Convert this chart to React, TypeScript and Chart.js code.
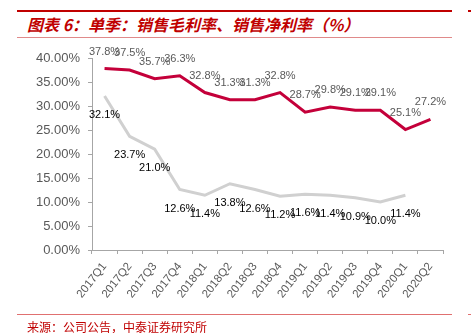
import React, { useEffect, useRef } from "react";
import { Chart, registerables } from "chart.js";

Chart.register(...registerables);

const categories = [
  "2017Q1", "2017Q2", "2017Q3", "2017Q4",
  "2018Q1", "2018Q2", "2018Q3", "2018Q4",
  "2019Q1", "2019Q2", "2019Q3", "2019Q4",
  "2020Q1", "2020Q2",
];
const grossMargin = [37.8, 37.5, 35.7, 36.3, 32.8, 31.3, 31.3, 32.8, 28.7, 29.8, 29.1, 29.1, 25.1, 27.2];
const netMargin = [32.1, 23.7, 21.0, 12.6, 11.4, 13.8, 12.6, 11.2, 11.6, 11.4, 10.9, 10.0, 11.4, null];
const yTicks = [0, 5, 10, 15, 20, 25, 30, 35, 40];

const titleText = "图表 6：单季：销售毛利率、销售净利率（%）";
const sourceText = "来源：公司公告，中泰证券研究所";

const FONT = "'Liberation Sans', Arial, sans-serif";

export default function App() {
  const ref = useRef<HTMLCanvasElement>(null);

  useEffect(() => {
    const labelPlugin = {
      id: "valueLabels",
      afterDatasetsDraw(chart: any) {
        const ctx = chart.ctx;
        ctx.save();
        ctx.font = `11px ${FONT}`;
        ctx.textAlign = "center";
        ctx.textBaseline = "middle";
        chart.data.datasets.forEach((ds: any, di: number) => {
          const meta = chart.getDatasetMeta(di);
          meta.data.forEach((pt: any, i: number) => {
            const v = ds.data[i];
            if (v == null) return;
            ctx.fillStyle = di === 0 ? "#595959" : "#000000";
            const dy = di === 0 ? -17 : 19;
            ctx.fillText(v.toFixed(1) + "%", pt.x, pt.y + dy);
          });
        });
        ctx.restore();
      },
    };

    const chart = new Chart(ref.current as HTMLCanvasElement, {
      type: "line",
      data: {
        labels: categories,
        datasets: [
          {
            label: "销售毛利率",
            data: grossMargin,
            borderColor: "#c4003a",
            borderWidth: 3,
            pointRadius: 0,
            tension: 0,
          },
          {
            label: "销售净利率",
            data: netMargin as any,
            borderColor: "#d0d0d0",
            borderWidth: 3,
            pointRadius: 0,
            tension: 0,
            spanGaps: false,
          },
        ],
      },
      options: {
        responsive: false,
        animation: false,
        devicePixelRatio: 1,
        layout: { padding: { top: 58, right: 28, left: 0, bottom: 0 } },
        plugins: {
          legend: { display: false },
          tooltip: { enabled: false },
        },
        scales: {
          x: {
            type: "category",
            offset: true,
            grid: {
              offset: true,
              drawOnChartArea: false,
              drawTicks: true,
              tickLength: 4,
              color: "#a6a6a6",
            },
            border: { color: "#a6a6a6", width: 1 },
            ticks: {
              autoSkip: false,
              maxRotation: 52,
              minRotation: 52,
              color: "#595959",
              font: { size: 11.5, family: FONT },
              padding: 6,
            },
            afterFit: (s: any) => {
              s.height = 83;
            },
          },
          y: {
            min: 0,
            max: 40,
            afterBuildTicks: (s: any) => {
              s.ticks = yTicks.map((v) => ({ value: v }));
            },
            ticks: {
              color: "#595959",
              font: { size: 13, family: FONT },
              padding: 8,
              callback: (v: any) => Number(v).toFixed(2) + "%",
            },
            grid: {
              drawOnChartArea: false,
              drawTicks: true,
              tickLength: 4,
              color: "#a6a6a6",
            },
            border: { color: "#a6a6a6", width: 1 },
            afterFit: (s: any) => {
              s.width = 92;
            },
          },
        },
      },
      plugins: [labelPlugin],
    });
    return () => chart.destroy();
  }, []);

  return (
    <div
      style={{
        position: "fixed",
        left: 0,
        top: 0,
        width: 471,
        height: 333,
        background: "#ffffff",
        overflow: "hidden",
      }}
    >
      <div style={{ position: "absolute", left: 17, top: 10, width: 435, height: 2, background: "#c00000" }} />
      <div style={{ position: "absolute", left: 468, top: 10, width: 3, height: 2, background: "#c00000" }} />
      <div
        style={{
          position: "absolute",
          left: 27,
          top: 14,
          fontFamily: "'Noto Sans CJK SC', sans-serif",
          fontSize: 16,
          lineHeight: "20px",
          fontWeight: 700,
          fontStyle: "italic",
          color: "#c00000",
          whiteSpace: "nowrap",
        }}
      >
        {titleText}
      </div>
      <div style={{ position: "absolute", left: 17, top: 37, width: 435, height: 1, background: "#e08a8a" }} />
      <canvas
        ref={ref}
        width={471}
        height={333}
        style={{ position: "absolute", left: 0, top: 0, width: 471, height: 333 }}
      />
      <div style={{ position: "absolute", left: 17, top: 314, width: 435, height: 1, background: "#e07070" }} />
      <div style={{ position: "absolute", left: 468, top: 314, width: 3, height: 1, background: "#e07070" }} />
      <div
        style={{
          position: "absolute",
          left: 27,
          top: 320,
          fontFamily: "'Noto Sans CJK SC', sans-serif",
          fontSize: 12,
          lineHeight: "14px",
          color: "#c00000",
          whiteSpace: "nowrap",
        }}
      >
        {sourceText}
      </div>
    </div>
  );
}
